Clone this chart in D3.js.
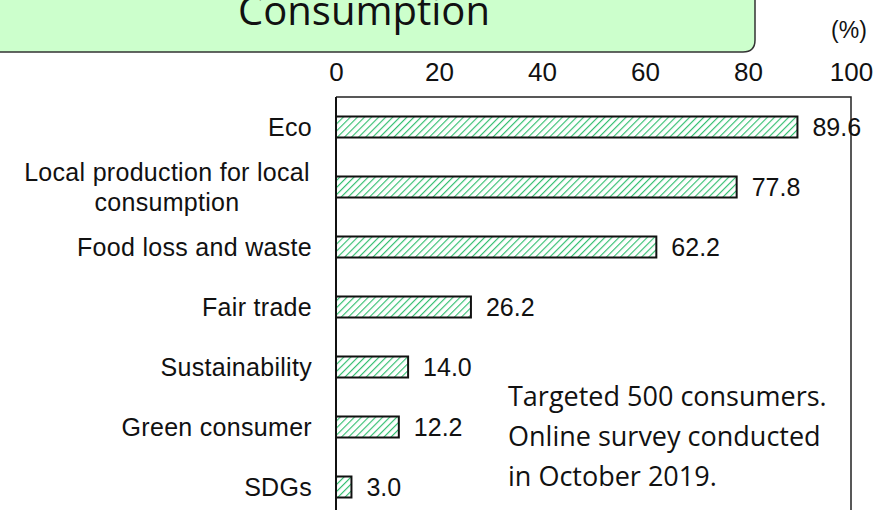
<!DOCTYPE html>
<html><head><meta charset="utf-8">
<script src="https://cdn.jsdelivr.net/npm/d3@7"></script>
<style>body{margin:0;background:#fff}svg{display:block}</style>
</head><body>
<svg id="c" width="895" height="510"></svg>
<script>
const categories = [["Eco"],["Local production for local","consumption"],["Food loss and waste"],["Fair trade"],["Sustainability"],["Green consumer"],["SDGs"]];
const values = [89.6, 77.8, 62.2, 26.2, 14.0, 12.2, 3.0];
const ticks = [0, 20, 40, 60, 80, 100];
const titleText = "Consumption";
const unitText = "(%)";
const noteLines = ["Targeted 500 consumers.", "Online survey conducted", "in October 2019."];

const svg = d3.select("#c");
const defs = svg.append("defs");
const pat = defs.append("pattern").attr("id","hatch").attr("patternUnits","userSpaceOnUse")
  .attr("width",5).attr("height",5).attr("patternTransform","rotate(45)");
pat.append("rect").attr("width",5).attr("height",5).attr("fill","#fff");
pat.append("line").attr("x1",0).attr("y1",0).attr("x2",0).attr("y2",5)
  .attr("stroke","#33bf70").attr("stroke-width",2.3);

const AF = "Liberation Sans, Arial, sans-serif";
const L = 336, R = 851, T = 97, B = 517;
const x = d3.scaleLinear().domain([0,100]).range([L,R]);
const y = d3.scaleBand().domain(d3.range(values.length)).range([T,B]).paddingInner(0.65).paddingOuter(0.325);

// title box
svg.append("path").attr("d", `M-5,-5 L755,-5 L755,40 Q755,52 743,52 L-5,52 Z`)
  .attr("fill","#ccffcc").attr("stroke","#333").attr("stroke-width",1.5);
svg.append("text").attr("x",364).attr("y",25).attr("text-anchor","middle")
  .attr("font-family","Open Sans, sans-serif").attr("font-size",40).attr("fill","#111").text(titleText);
svg.append("text").attr("x",849).attr("y",38).attr("text-anchor","middle")
  .attr("font-family",AF).attr("font-size",23).attr("fill","#111").text(unitText);

// axis
const ax = svg.append("g").attr("transform",`translate(0,${T})`)
  .call(d3.axisTop(x).tickValues(ticks).tickSize(0).tickPadding(16));
ax.select(".domain").remove();
ax.selectAll("text").attr("font-family",AF).attr("font-size",26).attr("fill","#111");

// frame
svg.append("path").attr("d",`M${L},${T} L${R},${T} L${R},${B+5}`)
  .attr("fill","none").attr("stroke","#222").attr("stroke-width",1.5);
svg.append("line").attr("x1",L).attr("x2",L).attr("y1",T).attr("y2",B+5)
  .attr("stroke","#111").attr("stroke-width",2);

// bars
svg.selectAll("rect.bar").data(values).join("rect").attr("class","bar")
  .attr("x",x(0)).attr("y",(d,i)=>y(i)).attr("width",d=>x(d)-x(0)).attr("height",y.bandwidth())
  .attr("fill","url(#hatch)").attr("stroke","#111").attr("stroke-width",2);

// value labels
svg.selectAll("text.val").data(values).join("text").attr("class","val")
  .attr("x",d=>x(d)+15).attr("y",(d,i)=>y(i)+y.bandwidth()/2+9)
  .attr("font-family",AF).attr("font-size",25).attr("fill","#111")
  .text(d=>d.toFixed(1));

// category labels
categories.forEach((lines,i)=>{
  const cy = y(i)+y.bandwidth()/2;
  const n = lines.length;
  lines.forEach((s,j)=>{
    const t = svg.append("text").attr("y", cy + 9 + (j-(n-1)/2)*30)
      .attr("font-family",AF).attr("font-size",25).attr("letter-spacing",0.3).attr("fill","#111").text(s);
    if(n>1){ t.attr("x",167).attr("text-anchor","middle"); }
    else { t.attr("x",312).attr("text-anchor","end"); }
  });
});

// note
noteLines.forEach((s,i)=>{
  svg.append("text").attr("x",508).attr("y",406+i*40)
    .attr("font-family","Open Sans, sans-serif").attr("font-size",27).attr("fill","#111").text(s);
});
</script>
</body></html>
